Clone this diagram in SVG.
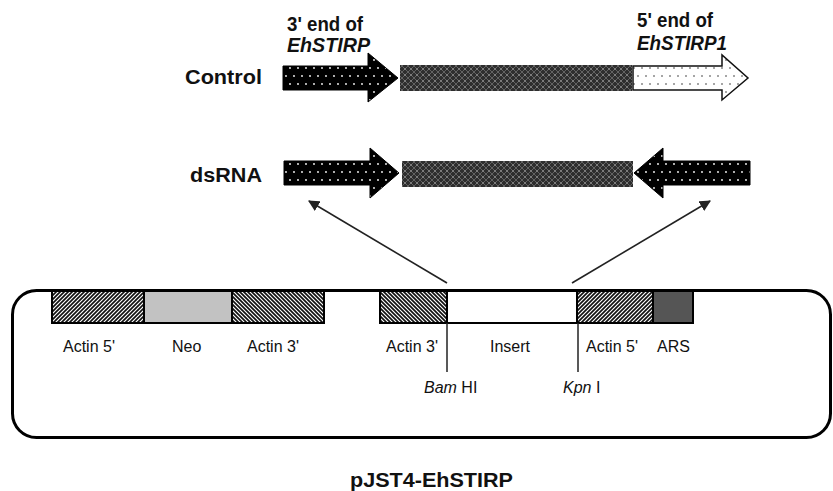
<svg xmlns="http://www.w3.org/2000/svg" width="833" height="491" viewBox="0 0 833 491">
<style>
  .bold { font-family: "Liberation Sans", Arial, sans-serif; font-weight: bold; font-size: 19.5px; fill: #111; }
  .lbl { font-family: "Liberation Sans", Arial, sans-serif; font-size: 16px; fill: #111; }
  .it { font-style: italic; }
  .blk { stroke: #000; stroke-width: 2; }
  .conn { stroke: #222; stroke-width: 1.6; fill: none; marker-end: url(#ah); }
  .tick { stroke: #222; stroke-width: 1.5; }
</style>
<defs>
  <pattern id="dotsW" width="8" height="16" patternUnits="userSpaceOnUse">
    <rect width="8" height="16" fill="#000"/>
    <circle cx="2" cy="4" r="0.9" fill="#fff"/>
    <circle cx="6" cy="12" r="0.9" fill="#fff"/>
  </pattern>
  <pattern id="dotsB" width="8" height="16" patternUnits="userSpaceOnUse">
    <rect width="8" height="16" fill="#fff"/>
    <circle cx="2" cy="4" r="0.8" fill="#333"/>
    <circle cx="6" cy="12" r="0.8" fill="#333"/>
  </pattern>
  <pattern id="mesh" width="6" height="6" patternUnits="userSpaceOnUse">
    <rect width="6" height="6" fill="#2e2e2e"/>
    <path d="M0 0L6 6M6 0L0 6" stroke="#707070" stroke-width="0.8"/>
    <circle cx="3" cy="3" r="0.7" fill="#aaa"/>
  </pattern>
  <pattern id="hatchF" width="4" height="4" patternUnits="userSpaceOnUse">
    <rect width="4" height="4" fill="#fff"/>
    <path d="M-1 1L1 -1M0 4L4 0M3 5L5 3" stroke="#111" stroke-width="1.7"/>
  </pattern>
  <pattern id="hatchB" width="4" height="4" patternUnits="userSpaceOnUse">
    <rect width="4" height="4" fill="#fff"/>
    <path d="M-1 3L1 5M0 0L4 4M3 -1L5 1" stroke="#111" stroke-width="1.7"/>
  </pattern>
  <marker id="ah" viewBox="0 0 10 10" refX="9" refY="5" markerWidth="7" markerHeight="7" orient="auto" markerUnits="strokeWidth">
    <path d="M0 0L10 5L0 10z" fill="#222"/>
  </marker>
</defs>

<g id="labels-top">
  <text class="bold" x="185" y="84" textLength="77" lengthAdjust="spacingAndGlyphs">Control</text>
  <text class="bold" x="190" y="182" textLength="72" lengthAdjust="spacingAndGlyphs">dsRNA</text>
  <text class="bold" x="287" y="31" textLength="76" lengthAdjust="spacingAndGlyphs">3' end of</text>
  <text class="bold it" x="287" y="52" textLength="83" lengthAdjust="spacingAndGlyphs">EhSTIRP</text>
  <text class="bold" x="637" y="27" textLength="76" lengthAdjust="spacingAndGlyphs">5' end of</text>
  <text class="bold it" x="637" y="50" textLength="90" lengthAdjust="spacingAndGlyphs">EhSTIRP1</text>
</g>

<g id="control-row">
  <path d="M283 66H368V53L398 78L368 102V90H283Z" fill="url(#dotsW)" stroke="#000" stroke-width="1"/>
  <rect x="400" y="65" width="232" height="26" fill="url(#mesh)"/>
  <path d="M633 66H722V55L748 78L722 100V90H633Z" fill="url(#dotsB)" stroke="#111" stroke-width="1.5"/>
</g>

<g id="dsrna-row">
  <path d="M284 161H370V148L399 173L370 198V185H284Z" fill="url(#dotsW)" stroke="#000" stroke-width="1"/>
  <rect x="402" y="161" width="231" height="26" fill="url(#mesh)"/>
  <path d="M750 161H663V148L634 173L663 198V185H750Z" fill="url(#dotsW)" stroke="#000" stroke-width="1"/>
</g>

<g id="connectors">
  <line class="conn" x1="447" y1="283" x2="309" y2="201"/>
  <line class="conn" x1="572" y1="283" x2="710" y2="201"/>
</g>

<g id="plasmid">
  <rect x="12.5" y="290.5" width="818" height="147" rx="24" ry="24" fill="none" stroke="#000" stroke-width="3"/>
  <g id="actin5-a"><rect class="blk" x="52" y="291" width="92" height="32" fill="url(#hatchF)"/>
    <text class="lbl" x="63" y="352">Actin 5'</text></g>
  <g id="neo"><rect class="blk" x="144" y="291" width="88" height="32" fill="#c2c2c2"/>
    <text class="lbl" x="172" y="352">Neo</text></g>
  <g id="actin3-a"><rect class="blk" x="232" y="291" width="92" height="32" fill="url(#hatchB)"/>
    <text class="lbl" x="247" y="352">Actin 3'</text></g>
  <g id="actin3-b"><rect class="blk" x="380" y="291" width="67" height="32" fill="url(#hatchB)"/>
    <text class="lbl" x="386" y="352">Actin 3'</text></g>
  <g id="insert"><rect class="blk" x="447" y="291" width="130" height="32" fill="#fff"/>
    <text class="lbl" x="490" y="352">Insert</text></g>
  <g id="actin5-b"><rect class="blk" x="577" y="291" width="76" height="32" fill="url(#hatchF)"/>
    <text class="lbl" x="586" y="352">Actin 5'</text></g>
  <g id="ars"><rect class="blk" x="653" y="291" width="40" height="32" fill="#555"/>
    <text class="lbl" x="657" y="352">ARS</text></g>
  <g id="bamhi"><line class="tick" x1="447" y1="323" x2="447" y2="372"/>
    <text class="lbl" x="424" y="393"><tspan class="it">Bam</tspan> HI</text></g>
  <g id="kpni"><line class="tick" x1="578" y1="323" x2="578" y2="372"/>
    <text class="lbl" x="563" y="393"><tspan class="it">Kpn</tspan> I</text></g>
  <text class="bold" x="350" y="487" textLength="163" lengthAdjust="spacingAndGlyphs">pJST4-EhSTIRP</text>
</g>
</svg>
